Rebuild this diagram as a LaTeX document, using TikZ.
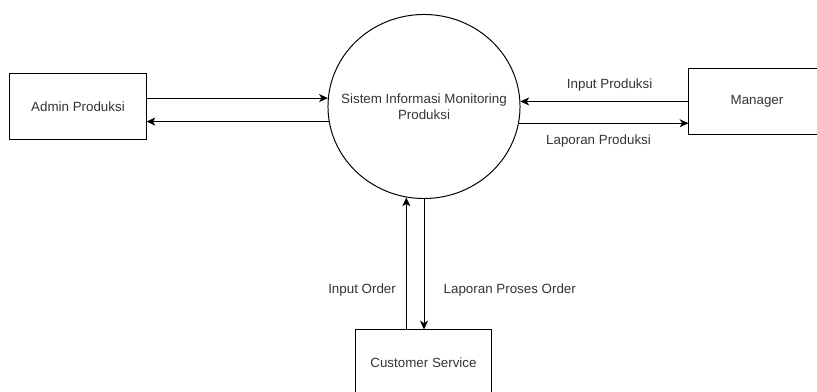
\documentclass[tikz,border=0pt]{standalone}
\usepackage{fontspec}
\setmainfont{Liberation Sans}
\usetikzlibrary{arrows.meta}
\usetikzlibrary{shapes.geometric}
\usetikzlibrary{positioning}
\tikzset{
  entity/.style={draw, minimum width=3.4cm, minimum height=1.625cm, inner sep=0pt, text=black!80},
  proc/.style={draw, ellipse, minimum width=4.8cm, minimum height=4.6cm, inner sep=0pt},
  flow/.style={-{Stealth[length=0.22cm,width=0.2cm,inset=0.06cm]}},
  lbl/.style={inner sep=0pt, text=black!80}
}

\begin{document}
\begin{tikzpicture}[x=0.025cm,y=-0.025cm, font=\fontsize{9.5}{11.3}\selectfont, line width=0.7pt]
        \useasboundingbox (0,0) rectangle (817,392);
        \clip (0,0) rectangle (817,392);

        %nodes
        \node[entity] (admin) at (78,106.5) {Admin Produksi};
        \node[proc, label={[lbl, align=center]center:Sistem Informasi Monitoring\\Produksi}] (sys) at (424,106.5) {};
        \node[entity] (mgr) at (757,101.5) {Manager};
        \node[entity] (cs) at (423.5,362.5) {Customer Service};

        %edges
        %admin produksi
        \draw[flow] (admin.east |- sys.175) -- (sys.175);
        \draw[flow] (sys.189) -- (admin.east |- sys.189);
        %manager
        \draw[flow] (mgr.west |- sys.3) -- (sys.3)
            node[lbl, midway, xshift=0.13cm, yshift=0.42cm] {Input Produksi};
        \draw[flow] (sys.-10.5) -- (mgr.west |- sys.-10.5)
            node[lbl, midway, xshift=-0.13cm, yshift=-0.44cm] {Laporan Produksi};
        %customer service
        \draw[flow] (cs.north -| sys.259) -- (sys.259)
            node[lbl, pos=0.3, anchor=east, xshift=-0.25cm] {Input Order};
        \draw[flow] (sys.south) -- (sys.south |- cs.north)
            node[lbl, pos=0.7, anchor=west, xshift=0.48cm] {Laporan Proses Order};
\end{tikzpicture}
\end{document}
